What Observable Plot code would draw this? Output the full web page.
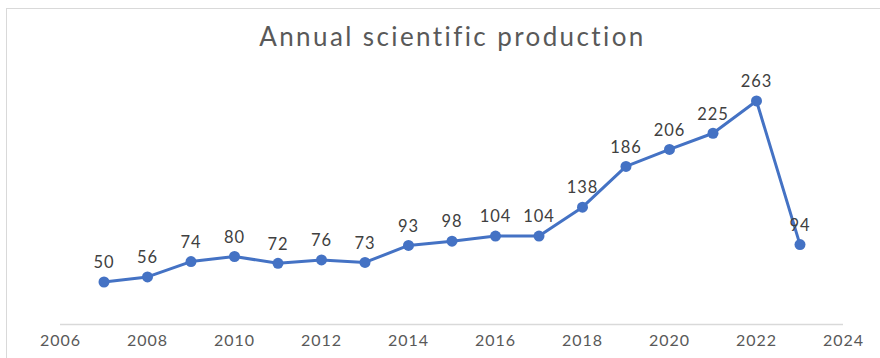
<!DOCTYPE html>
<html>
<head>
<meta charset="utf-8">
<script src="https://cdn.jsdelivr.net/npm/d3@7"></script>
<script src="https://cdn.jsdelivr.net/npm/@observablehq/plot@0.6"></script>
<style>
  html, body { margin: 0; padding: 0; background: #fff; }
  #wrap { position: relative; width: 880px; height: 358px; overflow: hidden; font-family: Lato, "Open Sans", sans-serif; }
  #frame { position: absolute; left: 6px; top: 8px; width: 900px; height: 400px; border-left: 1.5px solid #d9d9d9; border-top: 1.5px solid #d9d9d9; }
  #title { position: absolute; left: 0; width: 905px; top: 20px; text-align: center; font-size: 26px; color: #595959; letter-spacing: 2.4px; }
  #chart { position: absolute; left: 0; top: 0; }
  #chart svg text { letter-spacing: 1px; }
</style>
</head>
<body>
<div id="wrap">
  <div id="frame"></div>
  <div id="chart"></div>
  <div id="title">Annual scientific production</div>
</div>
<script>
const years = [2007, 2008, 2009, 2010, 2011, 2012, 2013, 2014, 2015, 2016, 2017, 2018, 2019, 2020, 2021, 2022, 2023];
const counts = [50, 56, 74, 80, 72, 76, 73, 93, 98, 104, 104, 138, 186, 206, 225, 263, 94];
const xTicks = [2006, 2008, 2010, 2012, 2014, 2016, 2018, 2020, 2022, 2024];

const data = years.map((y, i) => ({year: y, value: counts[i]}));

const chart = Plot.plot({
  width: 880,
  height: 358,
  marginTop: 69,
  marginBottom: 34,
  marginLeft: 60,
  marginRight: 37,
  style: {fontFamily: "Lato, 'Open Sans', sans-serif", background: "transparent"},
  x: {domain: [2006, 2024], ticks: xTicks, tickFormat: d => String(d), tickSize: 0, tickPadding: 10, label: null},
  y: {domain: [0, 300], axis: null},
  marks: [
    Plot.ruleY([0], {stroke: "#d9d9d9", strokeWidth: 1.5}),
    Plot.axisX({ticks: xTicks, tickFormat: d => String(d), tickSize: 0, tickPadding: 10, label: null, fontSize: 16, fill: "#595959"}),
    Plot.line(data, {x: "year", y: "value", stroke: "#4472C4", strokeWidth: 3}),
    Plot.dot(data, {x: "year", y: "value", fill: "#4472C4", r: 5.5}),
    Plot.text(data, {x: "year", y: "value", text: d => String(d.value), dy: -19, fontSize: 16.5, fill: "#404040"})
  ]
});
document.getElementById("chart").appendChild(chart);
</script>
</body>
</html>
